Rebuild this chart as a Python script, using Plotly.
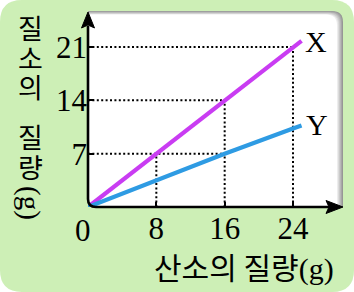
import plotly.graph_objects as go

# ---------------- data ----------------
oxygen_g = [0, 8, 16, 24, 25]
nitrogen_X = [0, 7, 14, 21, 21.8]
nitrogen_Y = [0, 3.5, 7, 10.3, 10.7]
series_names = ["X", "Y"]

x_tick_vals = [8, 16, 24]
x_tick_text = ["8", "16", "24"]
y_tick_vals = [7, 14, 21]
y_tick_text = ["7", "14", "21"]

# dotted guide lines
guide_levels = [7, 14, 21]          # horizontal guides: y value
guide_level_ends = [16, 16, 24]     # ... drawn from x=0 to this x
guide_cols = [8, 16, 24]            # vertical guides: x value
guide_col_tops = [7, 14, 21]        # ... drawn from y=0 to this y

x_title = "산소의 질량"
y_title_top = ["질", "소", "의"]
y_title_bottom = ["질", "량"]
unit_text = "(g)"
origin_text = "0"

# ---------------- layout geometry (pixels) ----------------
W, H = 354, 292
L, R, T, B = 88, 12, 12, 85
PW, PH = W - L - R, H - T - B
XMAX = PW / (205 / 24)
YMAX = PH / (160 / 21)


def px(x):
    return (x - L) / PW


def py(y):
    return (H - B - y) / PH


def P(x, y):
    return f"{px(x):.5f},{py(y):.5f}"


def rrect(x0, y0, x1, y1, r_tl=0, r_tr=0, r_br=0, r_bl=0):
    s = f"M {P(x0 + r_tl, y0)} L {P(x1 - r_tr, y0)} "
    s += f"Q {P(x1, y0)} {P(x1, y0 + r_tr)} " if r_tr else ""
    s += f"L {P(x1, y1 - r_br)} "
    s += f"Q {P(x1, y1)} {P(x1 - r_br, y1)} " if r_br else ""
    s += f"L {P(x0 + r_bl, y1)} "
    s += f"Q {P(x0, y1)} {P(x0, y1 - r_bl)} " if r_bl else ""
    s += f"L {P(x0, y0 + r_tl)} "
    s += f"Q {P(x0, y0)} {P(x0 + r_tl, y0)} " if r_tl else ""
    return s + "Z"


shapes = []
# green rounded background
shapes.append(dict(type="path", xref="paper", yref="paper", layer="below",
                   path=rrect(0, 0, W, H, 22, 22, 22, 22),
                   fillcolor="#CDEFB6", line=dict(width=0)))
# white box with grey shadow on top / right
steps = 7
for i in range(steps):
    t = i / (steps - 1)
    g = int(150 + (255 - 150) * t)
    col = f"rgb({g},{g},{g})"
    shapes.append(dict(type="path", xref="paper", yref="paper", layer="below",
                       path=rrect(88, 11 + i * 0.6, 343 - i, 207, 0, 11, 0, 0),
                       fillcolor=col, line=dict(width=0)))

# axes (rounded corner) + arrowheads
axis_path = (f"M {P(88, 26)} L {P(88, 199)} Q {P(88, 207)} {P(96, 207)} "
             f"L {P(330, 207)}")
shapes.append(dict(type="path", xref="paper", yref="paper", layer="above",
                   path=axis_path, line=dict(color="black", width=2.6)))
shapes.append(dict(type="path", xref="paper", yref="paper", layer="above",
                   path=f"M {P(88, 12)} L {P(94.5, 28)} L {P(88, 25)} L {P(81.5, 28)} Z",
                   fillcolor="black", line=dict(color="black", width=1)))
shapes.append(dict(type="path", xref="paper", yref="paper", layer="above",
                   path=f"M {P(343, 207)} L {P(326, 213.5)} L {P(329, 207)} L {P(326, 200.5)} Z",
                   fillcolor="black", line=dict(color="black", width=1)))

fig = go.Figure()

# dotted guides
gx, gy = [], []
for lv, xe in zip(guide_levels, guide_level_ends):
    gx += [0, xe, None]
    gy += [lv, lv, None]
for xc, yt in zip(guide_cols, guide_col_tops):
    gx += [xc, xc, None]
    gy += [0, yt, None]
fig.add_trace(go.Scatter(x=gx, y=gy, mode="lines", hoverinfo="skip",
                         line=dict(color="black", width=2, dash="2px,2.4px"),
                         showlegend=False))

fig.add_trace(go.Scatter(x=oxygen_g, y=nitrogen_X, mode="lines", name=series_names[0],
                         line=dict(color="#C93CF2", width=4.2), showlegend=False))
fig.add_trace(go.Scatter(x=oxygen_g, y=nitrogen_Y, mode="lines", name=series_names[1],
                         line=dict(color="#2E9BE3", width=4.2), showlegend=False))

serif = "Liberation Serif"
kr = "Noto Sans CJK KR"
TICK = 31
ann = []
# series labels at line ends
ann.append(dict(x=oxygen_g[-1], y=nitrogen_X[-1], xref="x", yref="y", text=series_names[0],
                showarrow=False, xanchor="left", yanchor="middle", xshift=1, yshift=-1,
                font=dict(family=serif, size=30, color="black")))
ann.append(dict(x=oxygen_g[-1], y=nitrogen_Y[-1], xref="x", yref="y", text=series_names[1],
                showarrow=False, xanchor="left", yanchor="middle", xshift=2, yshift=1,
                font=dict(family=serif, size=30, color="black")))
# origin label
ann.append(dict(x=px(83), y=py(230), xref="paper", yref="paper", text=origin_text,
                showarrow=False, xanchor="center", yanchor="middle",
                font=dict(family=serif, size=TICK, color="black")))
# x title
ann.append(dict(x=px(244), y=py(266), xref="paper", yref="paper",
                text=x_title + f"<span style='font-family:{serif}'>{unit_text}</span>",
                showarrow=False, xanchor="center", yanchor="middle",
                font=dict(family=kr, size=30, color="black")))


def stack(chars):
    return "<br>".join(f"<span style='font-size:27px'>{c}</span>" for c in chars)


# y title (vertical)
ann.append(dict(x=px(30), y=py(57), xref="paper", yref="paper", text=stack(y_title_top),
                showarrow=False, xanchor="center", yanchor="middle",
                font=dict(family=kr, size=22.7, color="black")))
ann.append(dict(x=px(30), y=py(151), xref="paper", yref="paper", text=stack(y_title_bottom),
                showarrow=False, xanchor="center", yanchor="middle",
                font=dict(family=kr, size=22.7, color="black")))
ann.append(dict(x=px(30), y=py(203), xref="paper", yref="paper", text=unit_text,
                showarrow=False, xanchor="center", yanchor="middle", textangle=90,
                font=dict(family=serif, size=29, color="black")))

fig.update_layout(
    width=W, height=H,
    margin=dict(l=L, r=R, t=T, b=B, pad=0),
    paper_bgcolor="white",
    plot_bgcolor="rgba(0,0,0,0)",
    shapes=shapes,
    annotations=ann,
    showlegend=False,
    xaxis=dict(range=[0, XMAX], showgrid=False, zeroline=False, showline=False,
               tickvals=x_tick_vals, ticktext=x_tick_text, ticks="inside",
               ticklen=5, tickwidth=2, tickcolor="black",
               tickfont=dict(family=serif, size=TICK, color="black"), fixedrange=True),
    yaxis=dict(range=[0, YMAX], showgrid=False, zeroline=False, showline=False,
               tickvals=y_tick_vals, ticktext=y_tick_text, ticks="inside",
               ticklen=6, tickwidth=2, tickcolor="black",
               tickfont=dict(family=serif, size=TICK, color="black"), fixedrange=True),
)

fig.write_html("out.html", config=dict(displayModeBar=False))
